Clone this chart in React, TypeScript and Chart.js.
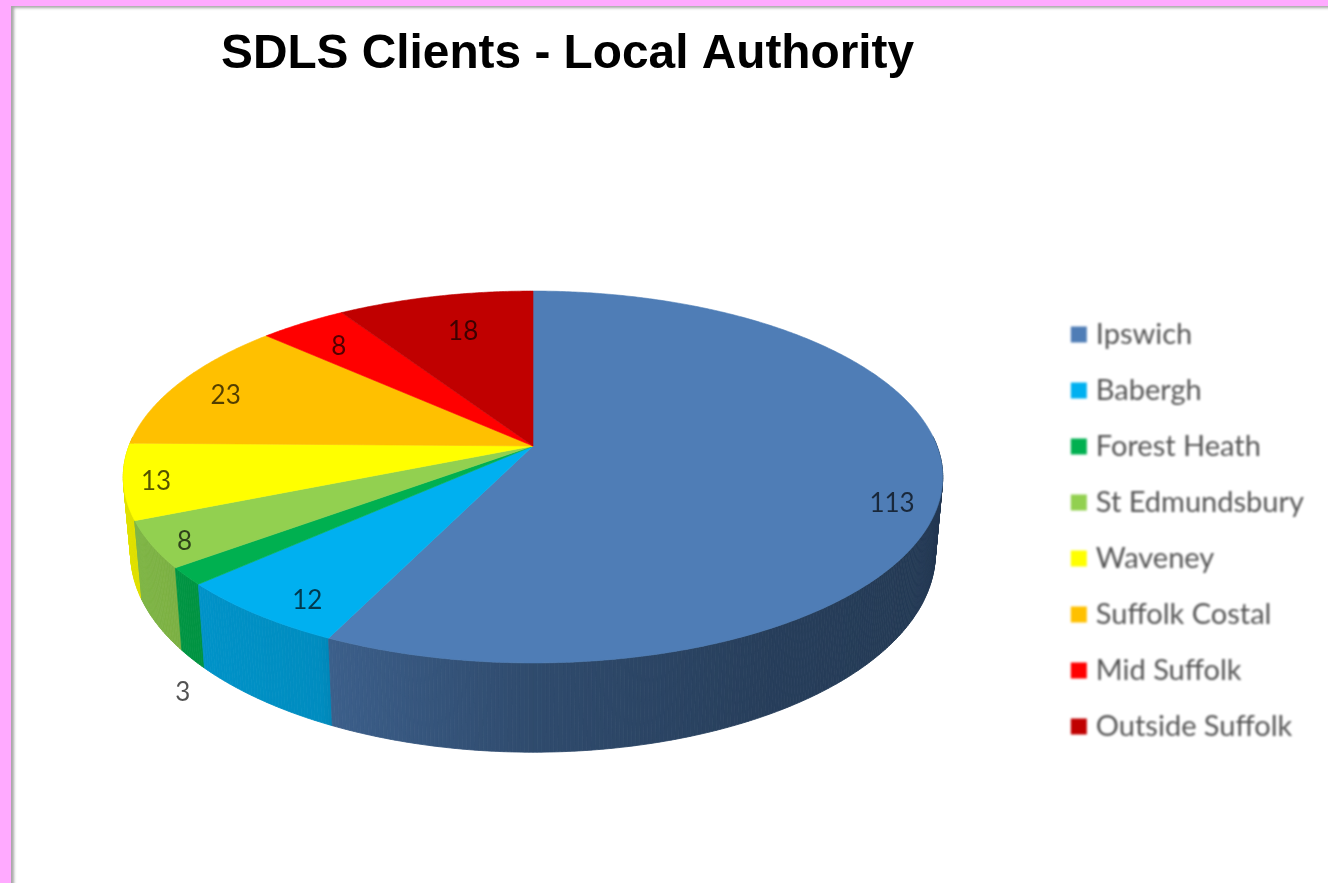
import React, { useEffect, useRef } from "react";
import { Chart, registerables } from "chart.js";

Chart.register(...registerables);

const titleText = "SDLS Clients - Local Authority";
const categories = ["Ipswich", "Babergh", "Forest Heath", "St Edmundsbury", "Waveney", "Suffolk Costal", "Mid Suffolk", "Outside Suffolk"];
const clientCounts = [113, 12, 3, 8, 13, 23, 8, 18];
const sliceColours = ["#4f7db6", "#00b0f0", "#00b050", "#92d050", "#ffff00", "#ffc000", "#ff0000", "#c00000"];

// label placement on the pie: radius fraction and angular nudge (degrees) per slice
const labelRadius = [0.895, 0.886, 1.31, 0.926, 0.923, 0.855, 0.813, 0.745];
const labelNudge = [6.5, -2.8, -17.3, -1, -0.5, -1, -0.7, 1.3];

// perspective of the disc
const view = { cx: 533, apexTop: 446, apexBottom: 520, ax: 404, ay: 180.8, k: 1 / 6, bottomX: 0.982, bottomY: 193.5 };

const topPoint = (a: number, r = 1) => {
  const u = r * Math.cos(a), v = r * Math.sin(a), w = 1 - view.k * v;
  return [view.cx + (view.ax * u) / w, view.apexTop + (view.ay * v) / w];
};
const bottomPoint = (a: number) => {
  const u = Math.cos(a), v = Math.sin(a), w = 1 - view.k * v;
  return [view.cx + (view.ax * view.bottomX * u) / w, view.apexBottom + (view.bottomY * v) / w];
};

// wall shading by clockwise-from-top angle
const shadeStops: [number, number][] = [[80, 0.43], [150, 0.5], [180, 0.6], [205, 0.76], [207, 0.8], [250, 0.88], [290, 0.92]];
const shadeAt = (deg: number) => {
  if (deg <= shadeStops[0][0]) return shadeStops[0][1];
  for (let i = 1; i < shadeStops.length; i++) {
    const [d0, s0] = shadeStops[i - 1], [d1, s1] = shadeStops[i];
    if (deg <= d1) return s0 + ((s1 - s0) * (deg - d0)) / (d1 - d0);
  }
  return shadeStops[shadeStops.length - 1][1];
};
const shaded = (hex: string, f: number) => {
  const n = parseInt(hex.slice(1), 16);
  return `rgb(${Math.round(((n >> 16) & 255) * f)},${Math.round(((n >> 8) & 255) * f)},${Math.round((n & 255) * f)})`;
};

const disc3d = {
  id: "disc3d",
  beforeDraw(chart: any) {
    const legend = chart.legend;
    if (legend && !legend.__soft) {
      const draw = legend.draw.bind(legend);
      legend.draw = (...args: any[]) => {
        chart.ctx.save();
        chart.ctx.filter = "blur(0.8px)";
        draw(...args);
        chart.ctx.restore();
      };
      legend.__soft = true;
    }
  },
  beforeDatasetsDraw(chart: any) {
    const ctx = chart.ctx;
    const arcs = chart.getDatasetMeta(0).data;
    const step = Math.PI / 360;
    ctx.save();
    ctx.filter = "blur(0.6px)";
    // walls
    const quads: any[] = [];
    arcs.forEach((arc: any, i: number) => {
      for (let a = arc.startAngle; a < arc.endAngle - 1e-6; a += step) {
        const b = Math.min(a + step, arc.endAngle);
        const mid = (a + b) / 2;
        if (Math.sin(mid) > -0.05) quads.push({ a, b, mid, i });
      }
    });
    quads.sort((p, q) => Math.sin(p.mid) - Math.sin(q.mid));
    quads.forEach(({ a, b, mid, i }) => {
      const deg = ((mid + Math.PI / 2) * 180) / Math.PI;
      const [x0, y0] = topPoint(a), [x1, y1] = topPoint(b), [x2, y2] = bottomPoint(b), [x3, y3] = bottomPoint(a);
      const c = shaded(sliceColours[i], shadeAt(deg));
      ctx.fillStyle = c;
      ctx.strokeStyle = c;
      ctx.lineWidth = 0.8;
      ctx.beginPath();
      ctx.moveTo(x0, y0);
      ctx.lineTo(x1, y1);
      ctx.lineTo(x2, y2);
      ctx.lineTo(x3, y3);
      ctx.closePath();
      ctx.fill();
      ctx.stroke();
    });
    // top faces
    arcs.forEach((arc: any, i: number) => {
      ctx.fillStyle = sliceColours[i];
      ctx.strokeStyle = sliceColours[i];
      ctx.lineWidth = 0.6;
      ctx.beginPath();
      const [ox, oy] = topPoint(0, 0);
      ctx.moveTo(ox, oy);
      for (let a = arc.startAngle; a < arc.endAngle; a += step) {
        const [x, y] = topPoint(a);
        ctx.lineTo(x, y);
      }
      const [ex, ey] = topPoint(arc.endAngle);
      ctx.lineTo(ex, ey);
      ctx.closePath();
      ctx.fill();
      ctx.stroke();
    });
    // value labels
    ctx.filter = "blur(0.7px)";
    ctx.font = "26px Lato";
    ctx.textAlign = "center";
    ctx.textBaseline = "middle";
    ctx.fillStyle = "rgba(0,0,0,0.68)";
    arcs.forEach((arc: any, i: number) => {
      const mid = (arc.startAngle + arc.endAngle) / 2 + (labelNudge[i] * Math.PI) / 180;
      const [x, y] = topPoint(mid, labelRadius[i]);
      ctx.fillText(String(clientCounts[i]), x, y + 2);
    });
    ctx.restore();
    return false;
  },
};

export default function App() {
  const ref = useRef<HTMLCanvasElement>(null);
  useEffect(() => {
    const chart = new Chart(ref.current as HTMLCanvasElement, {
      type: "pie",
      data: {
        labels: categories,
        datasets: [{ data: clientCounts, backgroundColor: sliceColours, borderColor: sliceColours, borderWidth: 11 }],
      },
      options: {
        responsive: false,
        animation: false,
        events: [],
        layout: { padding: { left: 221, top: 26, right: 14, bottom: 115 } },
        plugins: {
          tooltip: { enabled: false },
          title: {
            display: true,
            text: titleText,
            align: "start",
            color: "#000000",
            font: { family: "Liberation Sans", size: 47.8, weight: "bold" },
            padding: 0,
          },
          legend: {
            position: "right",
            align: "end",
            labels: {
              boxWidth: 5,
              boxHeight: 5,
              padding: 27,
              color: "#555555",
              font: { family: "Lato", size: 29 },
            },
          },
        },
      },
      plugins: [disc3d],
    } as any);
    return () => chart.destroy();
  }, []);
  return (
    <div style={{ position: "fixed", left: 0, top: 0, width: 1328, height: 883, background: "#ffaaff", overflow: "hidden" }}>
      <div
        style={{
          position: "absolute",
          left: 11,
          top: 6,
          width: 1317,
          height: 877,
          background: "#ffffff",
          boxShadow: "inset 4px 3px 3px -1px rgba(0,0,0,0.35)",
        }}
      />
      <canvas ref={ref} width={1328} height={883} style={{ position: "absolute", left: 0, top: 0, display: "block" }} />
    </div>
  );
}
